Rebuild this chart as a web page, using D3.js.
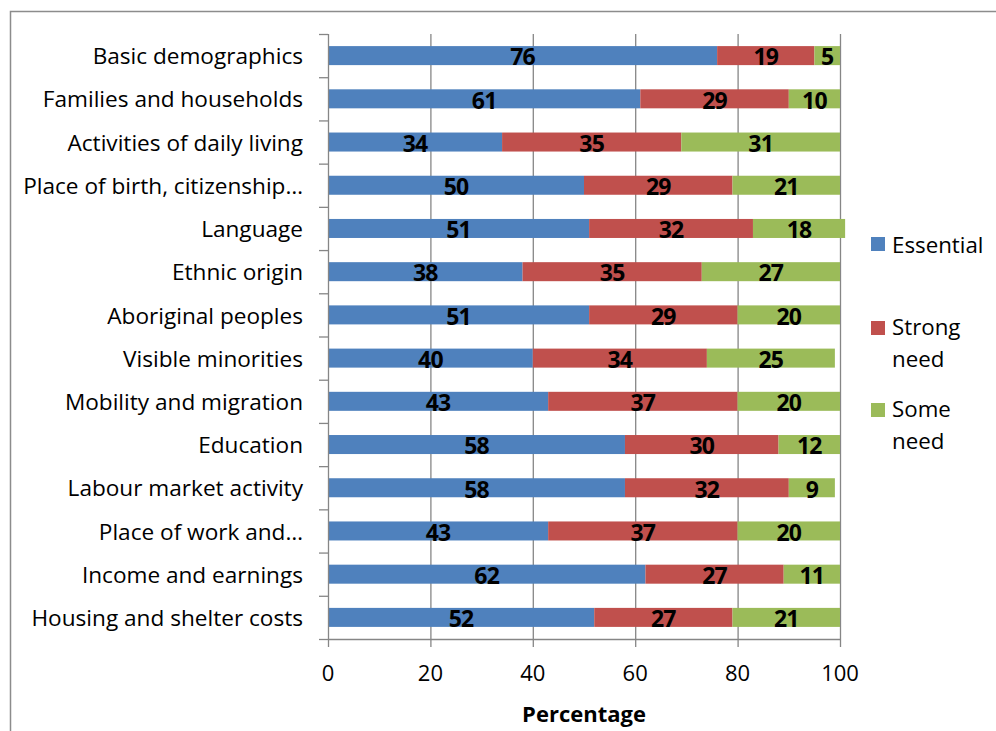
<!DOCTYPE html>
<html><head><meta charset="utf-8">
<script src="https://cdn.jsdelivr.net/npm/d3@7"></script>
<style>body{margin:0;background:#fff}svg{display:block}text{font-family:"Open Sans","Noto Sans",sans-serif}</style>
</head><body><svg id="c" width="996" height="731"></svg>
<script>
const categories=["Basic demographics","Families and households","Activities of daily living","Place of birth, citizenship…","Language","Ethnic origin","Aboriginal peoples","Visible minorities","Mobility and migration","Education","Labour market activity","Place of work and…","Income and earnings","Housing and shelter costs"];
const essential=[76,61,34,50,51,38,51,40,43,58,58,43,62,52];
const strongNeed=[19,29,35,29,32,35,29,34,37,30,32,37,27,27];
const someNeed=[5,10,31,21,18,27,20,25,20,12,9,20,11,21];
const seriesNames=["Essential","Strong need","Some need"];
const colors=["#4F81BD","#C0504D","#9BBB59"];
const xTicks=[0,20,40,60,80,100];
const axisTitle="Percentage";

const svg=d3.select("#c");
const m={l:328,r:840,t:34,b:639};
svg.append("path").attr("d","M10.5,731 L10.5,11.5 L996,11.5").attr("fill","none").attr("stroke","#8c8c8c").attr("stroke-width",1.5);

const x=d3.scaleLinear().domain([0,100]).range([m.l,m.r]);
const y=d3.scaleBand().domain(categories).range([m.t,m.b]).paddingInner(0.56).paddingOuter(0.28);

svg.append("g").selectAll("line").data(xTicks.slice(1)).join("line")
 .attr("x1",d=>x(d)+0.5).attr("x2",d=>x(d)+0.5).attr("y1",m.t).attr("y2",m.b)
 .attr("stroke","#868686").attr("stroke-width",1.3);

const rows=categories.map((c,i)=>({c,vals:[essential[i],strongNeed[i],someNeed[i]]}));
const segs=[];
rows.forEach(r=>{let acc=0;r.vals.forEach((v,k)=>{segs.push({c:r.c,k,v,x0:acc,x1:acc+v});acc+=v;});});

svg.append("g").selectAll("rect").data(segs).join("rect")
 .attr("x",d=>x(d.x0)).attr("width",d=>x(d.x1)-x(d.x0))
 .attr("y",d=>y(d.c)).attr("height",y.bandwidth())
 .attr("fill",d=>colors[d.k]);

svg.append("g").selectAll("text").data(segs).join("text")
 .attr("x",d=>x((d.x0+d.x1)/2)).attr("y",d=>y(d.c)+y.bandwidth()/2+1.5)
 .attr("dy","0.36em").attr("text-anchor","middle")
 .attr("font-weight","bold").attr("font-size",23).attr("fill","#000")
 .attr("letter-spacing",-0.8)
 .text(d=>d.v);

const yAxisG=svg.append("g");
yAxisG.append("line").attr("x1",m.l+0.5).attr("x2",m.l+0.5).attr("y1",m.t).attr("y2",m.b).attr("stroke","#868686").attr("stroke-width",1.3);
const yTickPos=d3.range(categories.length+1).map(i=>m.t+i*(m.b-m.t)/categories.length);
yAxisG.selectAll("line.t").data(yTickPos).join("line").attr("class","t")
 .attr("x1",m.l-9).attr("x2",m.l).attr("y1",d=>d+0.5).attr("y2",d=>d+0.5).attr("stroke","#868686").attr("stroke-width",1.3);
yAxisG.selectAll("text").data(categories).join("text")
 .attr("x",303).attr("y",d=>y(d)+y.bandwidth()/2+0.7).attr("dy","0.35em")
 .attr("text-anchor","end").attr("font-size",22.6).attr("fill","#000").text(d=>d);

const xAxisG=svg.append("g");
xAxisG.append("line").attr("x1",m.l).attr("x2",m.r+1).attr("y1",m.b+0.5).attr("y2",m.b+0.5).attr("stroke","#868686").attr("stroke-width",1.3);
xAxisG.selectAll("line.t").data(xTicks).join("line").attr("class","t")
 .attr("x1",d=>x(d)+0.5).attr("x2",d=>x(d)+0.5).attr("y1",m.b).attr("y2",m.b+8).attr("stroke","#868686").attr("stroke-width",1.3);
xAxisG.selectAll("text").data(xTicks).join("text")
 .attr("x",d=>x(d)).attr("y",673.5).attr("dy","0.35em").attr("text-anchor","middle")
 .attr("font-size",22).attr("fill","#000").text(d=>d);
svg.append("text").attr("x",(m.l+m.r)/2).attr("y",714).attr("dy","0.35em").attr("text-anchor","middle")
 .attr("font-weight","bold").attr("font-size",22).text(axisTitle);

const leg=[{n:["Essential"],y:245,sq:244},{n:["Strong","need"],y:327,sq:328},{n:["Some","need"],y:409.5,sq:410}];
const lg=svg.append("g");
leg.forEach((L,i)=>{
 lg.append("rect").attr("x",871).attr("y",L.sq-7).attr("width",14).attr("height",14).attr("fill",colors[i]);
 L.n.forEach((t,j)=>lg.append("text").attr("x",892).attr("y",L.y+j*32).attr("dy","0.35em").attr("font-size",22.3).text(t));
});
</script></body></html>
